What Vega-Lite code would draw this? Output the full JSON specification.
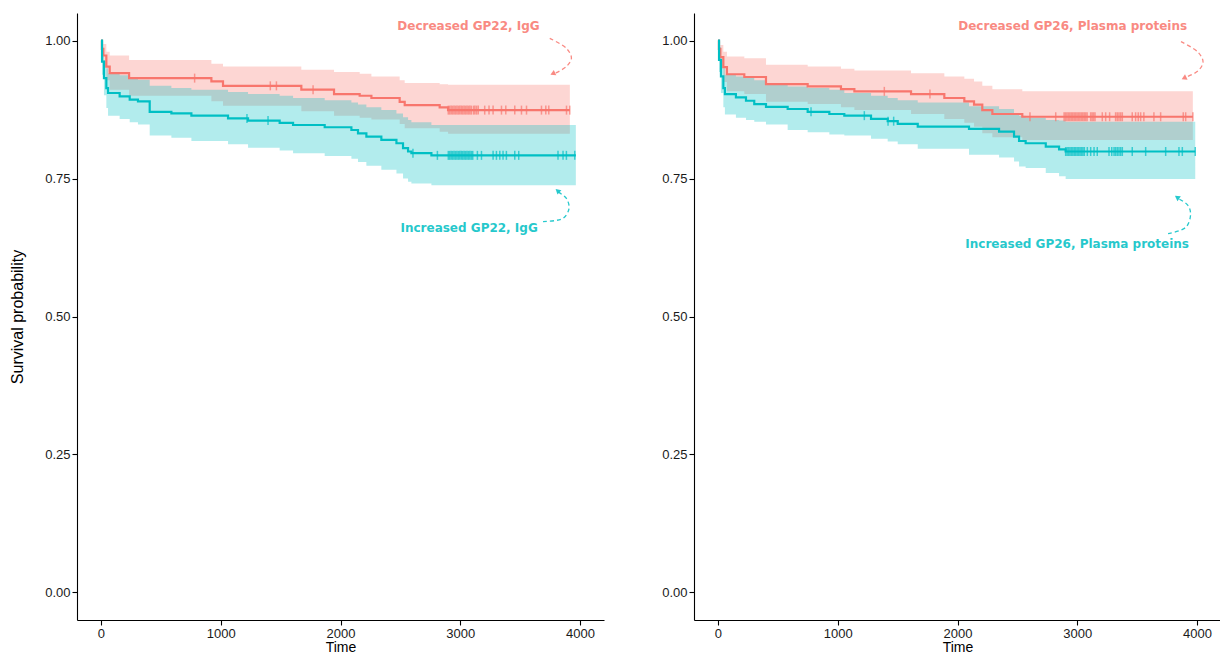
{
"$schema": "https://vega.github.io/schema/vega-lite/v6.json",
"background": "white",
"padding": {"left": 9, "top": 13, "right": 0, "bottom": 0},
"spacing": 57,
"config": {
  "view": {"stroke": null},
  "axis": {"grid": false, "domainColor": "black", "domainWidth": 1.1, "tickColor": "black", "tickSize": 5, "tickWidth": 1.1, "labelFont": "Liberation Sans", "labelFontSize": 13, "labelColor": "#1a1a1a", "labelPadding": 2, "titleFont": "Liberation Sans", "titleFontSize": 16, "titleFontWeight": "normal", "titleColor": "black"}
},
"datasets": {
  "km": [
    {"panel":"GP22","group":"Decreased","time":0,"surv":1,"lower":1,"upper":1},
    {"panel":"GP22","group":"Decreased","time":8,"surv":0.985,"lower":0.968,"upper":1.0},
    {"panel":"GP22","group":"Decreased","time":20,"surv":0.973,"lower":0.952,"upper":0.994},
    {"panel":"GP22","group":"Decreased","time":45,"surv":0.953,"lower":0.928,"upper":0.98},
    {"panel":"GP22","group":"Decreased","time":73,"surv":0.941,"lower":0.911,"upper":0.973},
    {"panel":"GP22","group":"Decreased","time":235,"surv":0.932,"lower":0.9,"upper":0.965},
    {"panel":"GP22","group":"Decreased","time":922,"surv":0.926,"lower":0.89,"upper":0.958},
    {"panel":"GP22","group":"Decreased","time":1019,"surv":0.918,"lower":0.882,"upper":0.953},
    {"panel":"GP22","group":"Decreased","time":1673,"surv":0.911,"lower":0.872,"upper":0.947},
    {"panel":"GP22","group":"Decreased","time":1946,"surv":0.903,"lower":0.864,"upper":0.943},
    {"panel":"GP22","group":"Decreased","time":2160,"surv":0.9,"lower":0.86,"upper":0.94},
    {"panel":"GP22","group":"Decreased","time":2258,"surv":0.896,"lower":0.857,"upper":0.935},
    {"panel":"GP22","group":"Decreased","time":2494,"surv":0.889,"lower":0.849,"upper":0.928},
    {"panel":"GP22","group":"Decreased","time":2536,"surv":0.883,"lower":0.841,"upper":0.923},
    {"panel":"GP22","group":"Decreased","time":2828,"surv":0.879,"lower":0.835,"upper":0.921},
    {"panel":"GP22","group":"Decreased","time":2898,"surv":0.874,"lower":0.831,"upper":0.92},
    {"panel":"GP22","group":"Decreased","time":3915,"surv":0.874,"lower":0.831,"upper":0.92},
    {"panel":"GP22","group":"Increased","time":0,"surv":1,"lower":1,"upper":1},
    {"panel":"GP22","group":"Increased","time":9,"surv":0.962,"lower":0.938,"upper":0.987},
    {"panel":"GP22","group":"Increased","time":25,"surv":0.932,"lower":0.901,"upper":0.964},
    {"panel":"GP22","group":"Increased","time":45,"surv":0.914,"lower":0.878,"upper":0.95},
    {"panel":"GP22","group":"Increased","time":59,"surv":0.905,"lower":0.864,"upper":0.941},
    {"panel":"GP22","group":"Increased","time":156,"surv":0.899,"lower":0.858,"upper":0.937},
    {"panel":"GP22","group":"Increased","time":240,"surv":0.893,"lower":0.852,"upper":0.931},
    {"panel":"GP22","group":"Increased","time":309,"surv":0.89,"lower":0.848,"upper":0.929},
    {"panel":"GP22","group":"Increased","time":407,"surv":0.871,"lower":0.828,"upper":0.918},
    {"panel":"GP22","group":"Increased","time":588,"surv":0.868,"lower":0.824,"upper":0.914},
    {"panel":"GP22","group":"Increased","time":755,"surv":0.864,"lower":0.818,"upper":0.911},
    {"panel":"GP22","group":"Increased","time":1061,"surv":0.859,"lower":0.812,"upper":0.907},
    {"panel":"GP22","group":"Increased","time":1228,"surv":0.855,"lower":0.806,"upper":0.903},
    {"panel":"GP22","group":"Increased","time":1492,"surv":0.851,"lower":0.801,"upper":0.9},
    {"panel":"GP22","group":"Increased","time":1604,"surv":0.847,"lower":0.796,"upper":0.896},
    {"panel":"GP22","group":"Increased","time":1868,"surv":0.843,"lower":0.791,"upper":0.892},
    {"panel":"GP22","group":"Increased","time":2091,"surv":0.838,"lower":0.786,"upper":0.888},
    {"panel":"GP22","group":"Increased","time":2146,"surv":0.832,"lower":0.78,"upper":0.884},
    {"panel":"GP22","group":"Increased","time":2216,"surv":0.826,"lower":0.773,"upper":0.879},
    {"panel":"GP22","group":"Increased","time":2341,"surv":0.82,"lower":0.766,"upper":0.874},
    {"panel":"GP22","group":"Increased","time":2467,"surv":0.814,"lower":0.759,"upper":0.868},
    {"panel":"GP22","group":"Increased","time":2522,"surv":0.805,"lower":0.75,"upper":0.861},
    {"panel":"GP22","group":"Increased","time":2564,"surv":0.799,"lower":0.744,"upper":0.856},
    {"panel":"GP22","group":"Increased","time":2592,"surv":0.796,"lower":0.741,"upper":0.852},
    {"panel":"GP22","group":"Increased","time":2759,"surv":0.792,"lower":0.738,"upper":0.847},
    {"panel":"GP22","group":"Increased","time":3965,"surv":0.792,"lower":0.738,"upper":0.847},
    {"panel":"GP26","group":"Decreased","time":0,"surv":1,"lower":1,"upper":1},
    {"panel":"GP26","group":"Decreased","time":8,"surv":0.985,"lower":0.97,"upper":1.0},
    {"panel":"GP26","group":"Decreased","time":20,"surv":0.97,"lower":0.95,"upper":0.992},
    {"panel":"GP26","group":"Decreased","time":45,"surv":0.952,"lower":0.925,"upper":0.98},
    {"panel":"GP26","group":"Decreased","time":75,"surv":0.939,"lower":0.908,"upper":0.971},
    {"panel":"GP26","group":"Decreased","time":220,"surv":0.934,"lower":0.903,"upper":0.968},
    {"panel":"GP26","group":"Decreased","time":401,"surv":0.921,"lower":0.889,"upper":0.956},
    {"panel":"GP26","group":"Decreased","time":749,"surv":0.917,"lower":0.885,"upper":0.953},
    {"panel":"GP26","group":"Decreased","time":1027,"surv":0.912,"lower":0.879,"upper":0.949},
    {"panel":"GP26","group":"Decreased","time":1139,"surv":0.908,"lower":0.874,"upper":0.946},
    {"panel":"GP26","group":"Decreased","time":1612,"surv":0.903,"lower":0.867,"upper":0.941},
    {"panel":"GP26","group":"Decreased","time":1890,"surv":0.896,"lower":0.858,"upper":0.935},
    {"panel":"GP26","group":"Decreased","time":2057,"surv":0.89,"lower":0.851,"upper":0.931},
    {"panel":"GP26","group":"Decreased","time":2138,"surv":0.884,"lower":0.844,"upper":0.926},
    {"panel":"GP26","group":"Decreased","time":2207,"surv":0.874,"lower":0.832,"upper":0.918},
    {"panel":"GP26","group":"Decreased","time":2291,"surv":0.867,"lower":0.825,"upper":0.912},
    {"panel":"GP26","group":"Decreased","time":2541,"surv":0.862,"lower":0.82,"upper":0.908},
    {"panel":"GP26","group":"Decreased","time":3965,"surv":0.862,"lower":0.82,"upper":0.908},
    {"panel":"GP26","group":"Increased","time":0,"surv":1,"lower":1,"upper":1},
    {"panel":"GP26","group":"Increased","time":9,"surv":0.965,"lower":0.943,"upper":0.988},
    {"panel":"GP26","group":"Increased","time":25,"surv":0.935,"lower":0.905,"upper":0.966},
    {"panel":"GP26","group":"Increased","time":45,"surv":0.914,"lower":0.879,"upper":0.95},
    {"panel":"GP26","group":"Increased","time":58,"surv":0.903,"lower":0.866,"upper":0.938},
    {"panel":"GP26","group":"Increased","time":150,"surv":0.897,"lower":0.86,"upper":0.935},
    {"panel":"GP26","group":"Increased","time":234,"surv":0.891,"lower":0.856,"upper":0.932},
    {"panel":"GP26","group":"Increased","time":303,"surv":0.885,"lower":0.853,"upper":0.928},
    {"panel":"GP26","group":"Increased","time":401,"surv":0.88,"lower":0.848,"upper":0.92},
    {"panel":"GP26","group":"Increased","time":582,"surv":0.876,"lower":0.838,"upper":0.917},
    {"panel":"GP26","group":"Increased","time":749,"surv":0.871,"lower":0.834,"upper":0.914},
    {"panel":"GP26","group":"Increased","time":930,"surv":0.867,"lower":0.83,"upper":0.911},
    {"panel":"GP26","group":"Increased","time":1055,"surv":0.864,"lower":0.828,"upper":0.905},
    {"panel":"GP26","group":"Increased","time":1278,"surv":0.858,"lower":0.822,"upper":0.9},
    {"panel":"GP26","group":"Increased","time":1417,"surv":0.854,"lower":0.817,"upper":0.896},
    {"panel":"GP26","group":"Increased","time":1501,"surv":0.849,"lower":0.812,"upper":0.892},
    {"panel":"GP26","group":"Increased","time":1668,"surv":0.844,"lower":0.804,"upper":0.888},
    {"panel":"GP26","group":"Increased","time":2096,"surv":0.84,"lower":0.793,"upper":0.881},
    {"panel":"GP26","group":"Increased","time":2347,"surv":0.835,"lower":0.788,"upper":0.876},
    {"panel":"GP26","group":"Increased","time":2472,"surv":0.826,"lower":0.781,"upper":0.869},
    {"panel":"GP26","group":"Increased","time":2514,"surv":0.818,"lower":0.772,"upper":0.864},
    {"panel":"GP26","group":"Increased","time":2569,"surv":0.814,"lower":0.769,"upper":0.86},
    {"panel":"GP26","group":"Increased","time":2737,"surv":0.808,"lower":0.76,"upper":0.856},
    {"panel":"GP26","group":"Increased","time":2848,"surv":0.803,"lower":0.754,"upper":0.855},
    {"panel":"GP26","group":"Increased","time":2903,"surv":0.799,"lower":0.749,"upper":0.853},
    {"panel":"GP26","group":"Increased","time":3985,"surv":0.799,"lower":0.749,"upper":0.853}
  ],
  "censor": [
    {"panel":"GP22","group":"Decreased","time":782,"surv":0.932},
    {"panel":"GP22","group":"Decreased","time":1414,"surv":0.918},
    {"panel":"GP22","group":"Decreased","time":1465,"surv":0.918},
    {"panel":"GP22","group":"Decreased","time":1771,"surv":0.911},
    {"panel":"GP22","group":"Decreased","time":2900,"surv":0.874},
    {"panel":"GP22","group":"Decreased","time":2912,"surv":0.874},
    {"panel":"GP22","group":"Decreased","time":2924,"surv":0.874},
    {"panel":"GP22","group":"Decreased","time":2936,"surv":0.874},
    {"panel":"GP22","group":"Decreased","time":2948,"surv":0.874},
    {"panel":"GP22","group":"Decreased","time":2960,"surv":0.874},
    {"panel":"GP22","group":"Decreased","time":2972,"surv":0.874},
    {"panel":"GP22","group":"Decreased","time":2984,"surv":0.874},
    {"panel":"GP22","group":"Decreased","time":2996,"surv":0.874},
    {"panel":"GP22","group":"Decreased","time":3008,"surv":0.874},
    {"panel":"GP22","group":"Decreased","time":3020,"surv":0.874},
    {"panel":"GP22","group":"Decreased","time":3032,"surv":0.874},
    {"panel":"GP22","group":"Decreased","time":3044,"surv":0.874},
    {"panel":"GP22","group":"Decreased","time":3056,"surv":0.874},
    {"panel":"GP22","group":"Decreased","time":3068,"surv":0.874},
    {"panel":"GP22","group":"Decreased","time":3080,"surv":0.874},
    {"panel":"GP22","group":"Decreased","time":3092,"surv":0.874},
    {"panel":"GP22","group":"Decreased","time":3110,"surv":0.874},
    {"panel":"GP22","group":"Decreased","time":3122,"surv":0.874},
    {"panel":"GP22","group":"Decreased","time":3136,"surv":0.874},
    {"panel":"GP22","group":"Decreased","time":3150,"surv":0.874},
    {"panel":"GP22","group":"Decreased","time":3204,"surv":0.874},
    {"panel":"GP22","group":"Decreased","time":3240,"surv":0.874},
    {"panel":"GP22","group":"Decreased","time":3274,"surv":0.874},
    {"panel":"GP22","group":"Decreased","time":3344,"surv":0.874},
    {"panel":"GP22","group":"Decreased","time":3380,"surv":0.874},
    {"panel":"GP22","group":"Decreased","time":3455,"surv":0.874},
    {"panel":"GP22","group":"Decreased","time":3511,"surv":0.874},
    {"panel":"GP22","group":"Decreased","time":3553,"surv":0.874},
    {"panel":"GP22","group":"Decreased","time":3678,"surv":0.874},
    {"panel":"GP22","group":"Decreased","time":3714,"surv":0.874},
    {"panel":"GP22","group":"Decreased","time":3739,"surv":0.874},
    {"panel":"GP22","group":"Decreased","time":3887,"surv":0.874},
    {"panel":"GP22","group":"Decreased","time":3914,"surv":0.874},
    {"panel":"GP22","group":"Increased","time":1219,"surv":0.859},
    {"panel":"GP22","group":"Increased","time":1395,"surv":0.855},
    {"panel":"GP22","group":"Increased","time":2605,"surv":0.796},
    {"panel":"GP22","group":"Increased","time":2809,"surv":0.792},
    {"panel":"GP22","group":"Increased","time":2900,"surv":0.792},
    {"panel":"GP22","group":"Increased","time":2912,"surv":0.792},
    {"panel":"GP22","group":"Increased","time":2924,"surv":0.792},
    {"panel":"GP22","group":"Increased","time":2936,"surv":0.792},
    {"panel":"GP22","group":"Increased","time":2948,"surv":0.792},
    {"panel":"GP22","group":"Increased","time":2960,"surv":0.792},
    {"panel":"GP22","group":"Increased","time":2972,"surv":0.792},
    {"panel":"GP22","group":"Increased","time":2984,"surv":0.792},
    {"panel":"GP22","group":"Increased","time":2996,"surv":0.792},
    {"panel":"GP22","group":"Increased","time":3008,"surv":0.792},
    {"panel":"GP22","group":"Increased","time":3020,"surv":0.792},
    {"panel":"GP22","group":"Increased","time":3032,"surv":0.792},
    {"panel":"GP22","group":"Increased","time":3044,"surv":0.792},
    {"panel":"GP22","group":"Increased","time":3056,"surv":0.792},
    {"panel":"GP22","group":"Increased","time":3068,"surv":0.792},
    {"panel":"GP22","group":"Increased","time":3080,"surv":0.792},
    {"panel":"GP22","group":"Increased","time":3092,"surv":0.792},
    {"panel":"GP22","group":"Increased","time":3104,"surv":0.792},
    {"panel":"GP22","group":"Increased","time":3143,"surv":0.792},
    {"panel":"GP22","group":"Increased","time":3177,"surv":0.792},
    {"panel":"GP22","group":"Increased","time":3274,"surv":0.792},
    {"panel":"GP22","group":"Increased","time":3302,"surv":0.792},
    {"panel":"GP22","group":"Increased","time":3330,"surv":0.792},
    {"panel":"GP22","group":"Increased","time":3357,"surv":0.792},
    {"panel":"GP22","group":"Increased","time":3385,"surv":0.792},
    {"panel":"GP22","group":"Increased","time":3455,"surv":0.792},
    {"panel":"GP22","group":"Increased","time":3488,"surv":0.792},
    {"panel":"GP22","group":"Increased","time":3816,"surv":0.792},
    {"panel":"GP22","group":"Increased","time":3858,"surv":0.792},
    {"panel":"GP22","group":"Increased","time":3886,"surv":0.792},
    {"panel":"GP22","group":"Increased","time":3956,"surv":0.792},
    {"panel":"GP26","group":"Decreased","time":1389,"surv":0.908},
    {"panel":"GP26","group":"Decreased","time":1770,"surv":0.903},
    {"panel":"GP26","group":"Decreased","time":2605,"surv":0.862},
    {"panel":"GP26","group":"Decreased","time":2820,"surv":0.862},
    {"panel":"GP26","group":"Decreased","time":2890,"surv":0.862},
    {"panel":"GP26","group":"Decreased","time":2902,"surv":0.862},
    {"panel":"GP26","group":"Decreased","time":2914,"surv":0.862},
    {"panel":"GP26","group":"Decreased","time":2926,"surv":0.862},
    {"panel":"GP26","group":"Decreased","time":2938,"surv":0.862},
    {"panel":"GP26","group":"Decreased","time":2950,"surv":0.862},
    {"panel":"GP26","group":"Decreased","time":2962,"surv":0.862},
    {"panel":"GP26","group":"Decreased","time":2974,"surv":0.862},
    {"panel":"GP26","group":"Decreased","time":2986,"surv":0.862},
    {"panel":"GP26","group":"Decreased","time":2998,"surv":0.862},
    {"panel":"GP26","group":"Decreased","time":3010,"surv":0.862},
    {"panel":"GP26","group":"Decreased","time":3022,"surv":0.862},
    {"panel":"GP26","group":"Decreased","time":3034,"surv":0.862},
    {"panel":"GP26","group":"Decreased","time":3046,"surv":0.862},
    {"panel":"GP26","group":"Decreased","time":3058,"surv":0.862},
    {"panel":"GP26","group":"Decreased","time":3070,"surv":0.862},
    {"panel":"GP26","group":"Decreased","time":3082,"surv":0.862},
    {"panel":"GP26","group":"Decreased","time":3112,"surv":0.862},
    {"panel":"GP26","group":"Decreased","time":3124,"surv":0.862},
    {"panel":"GP26","group":"Decreased","time":3136,"surv":0.862},
    {"panel":"GP26","group":"Decreased","time":3148,"surv":0.862},
    {"panel":"GP26","group":"Decreased","time":3209,"surv":0.862},
    {"panel":"GP26","group":"Decreased","time":3237,"surv":0.862},
    {"panel":"GP26","group":"Decreased","time":3270,"surv":0.862},
    {"panel":"GP26","group":"Decreased","time":3320,"surv":0.862},
    {"panel":"GP26","group":"Decreased","time":3334,"surv":0.862},
    {"panel":"GP26","group":"Decreased","time":3348,"surv":0.862},
    {"panel":"GP26","group":"Decreased","time":3362,"surv":0.862},
    {"panel":"GP26","group":"Decreased","time":3376,"surv":0.862},
    {"panel":"GP26","group":"Decreased","time":3459,"surv":0.862},
    {"panel":"GP26","group":"Decreased","time":3487,"surv":0.862},
    {"panel":"GP26","group":"Decreased","time":3509,"surv":0.862},
    {"panel":"GP26","group":"Decreased","time":3529,"surv":0.862},
    {"panel":"GP26","group":"Decreased","time":3556,"surv":0.862},
    {"panel":"GP26","group":"Decreased","time":3640,"surv":0.862},
    {"panel":"GP26","group":"Decreased","time":3696,"surv":0.862},
    {"panel":"GP26","group":"Decreased","time":3885,"surv":0.862},
    {"panel":"GP26","group":"Decreased","time":3905,"surv":0.862},
    {"panel":"GP26","group":"Decreased","time":3965,"surv":0.862},
    {"panel":"GP26","group":"Increased","time":777,"surv":0.871},
    {"panel":"GP26","group":"Increased","time":1222,"surv":0.864},
    {"panel":"GP26","group":"Increased","time":1420,"surv":0.854},
    {"panel":"GP26","group":"Increased","time":1467,"surv":0.854},
    {"panel":"GP26","group":"Increased","time":2903,"surv":0.799},
    {"panel":"GP26","group":"Increased","time":2915,"surv":0.799},
    {"panel":"GP26","group":"Increased","time":2927,"surv":0.799},
    {"panel":"GP26","group":"Increased","time":2939,"surv":0.799},
    {"panel":"GP26","group":"Increased","time":2951,"surv":0.799},
    {"panel":"GP26","group":"Increased","time":2963,"surv":0.799},
    {"panel":"GP26","group":"Increased","time":2975,"surv":0.799},
    {"panel":"GP26","group":"Increased","time":2987,"surv":0.799},
    {"panel":"GP26","group":"Increased","time":2999,"surv":0.799},
    {"panel":"GP26","group":"Increased","time":3011,"surv":0.799},
    {"panel":"GP26","group":"Increased","time":3023,"surv":0.799},
    {"panel":"GP26","group":"Increased","time":3035,"surv":0.799},
    {"panel":"GP26","group":"Increased","time":3047,"surv":0.799},
    {"panel":"GP26","group":"Increased","time":3059,"surv":0.799},
    {"panel":"GP26","group":"Increased","time":3084,"surv":0.799},
    {"panel":"GP26","group":"Increased","time":3112,"surv":0.799},
    {"panel":"GP26","group":"Increased","time":3140,"surv":0.799},
    {"panel":"GP26","group":"Increased","time":3167,"surv":0.799},
    {"panel":"GP26","group":"Increased","time":3265,"surv":0.799},
    {"panel":"GP26","group":"Increased","time":3288,"surv":0.799},
    {"panel":"GP26","group":"Increased","time":3307,"surv":0.799},
    {"panel":"GP26","group":"Increased","time":3320,"surv":0.799},
    {"panel":"GP26","group":"Increased","time":3334,"surv":0.799},
    {"panel":"GP26","group":"Increased","time":3348,"surv":0.799},
    {"panel":"GP26","group":"Increased","time":3362,"surv":0.799},
    {"panel":"GP26","group":"Increased","time":3376,"surv":0.799},
    {"panel":"GP26","group":"Increased","time":3459,"surv":0.799},
    {"panel":"GP26","group":"Increased","time":3571,"surv":0.799},
    {"panel":"GP26","group":"Increased","time":3738,"surv":0.799},
    {"panel":"GP26","group":"Increased","time":3849,"surv":0.799},
    {"panel":"GP26","group":"Increased","time":3877,"surv":0.799},
    {"panel":"GP26","group":"Increased","time":3985,"surv":0.799}
  ],
  "notes": [
    {"panel":"GP22","group":"Decreased","time":3663,"surv":1.027,"label":"Decreased GP22, IgG"},
    {"panel":"GP22","group":"Increased","time":3647,"surv":0.661,"label":"Increased GP22, IgG"},
    {"panel":"GP26","group":"Decreased","time":3917,"surv":1.027,"label":"Decreased GP26, Plasma proteins"},
    {"panel":"GP26","group":"Increased","time":3933,"surv":0.632,"label":"Increased GP26, Plasma proteins"}
  ],
  "arrows": [
    {"panel":"GP22","group":"Decreased","step":1,"time":3747,"surv":1.004},
    {"panel":"GP22","group":"Decreased","step":2,"time":3886,"surv":0.986},
    {"panel":"GP22","group":"Decreased","step":3,"time":3928,"surv":0.968},
    {"panel":"GP22","group":"Decreased","step":4,"time":3886,"surv":0.953},
    {"panel":"GP22","group":"Decreased","step":5,"time":3785,"surv":0.940},
    {"panel":"GP22","group":"Increased","step":1,"time":3691,"surv":0.672},
    {"panel":"GP22","group":"Increased","step":2,"time":3858,"surv":0.678},
    {"panel":"GP22","group":"Increased","step":3,"time":3908,"surv":0.696},
    {"panel":"GP22","group":"Increased","step":4,"time":3886,"surv":0.714},
    {"panel":"GP22","group":"Increased","step":5,"time":3822,"surv":0.725},
    {"panel":"GP26","group":"Decreased","step":1,"time":3866,"surv":0.998},
    {"panel":"GP26","group":"Decreased","step":2,"time":4008,"surv":0.979},
    {"panel":"GP26","group":"Decreased","step":3,"time":4050,"surv":0.961},
    {"panel":"GP26","group":"Decreased","step":4,"time":4008,"surv":0.945},
    {"panel":"GP26","group":"Decreased","step":5,"time":3900,"surv":0.933},
    {"panel":"GP26","group":"Increased","step":1,"time":3758,"surv":0.650},
    {"panel":"GP26","group":"Increased","step":2,"time":3908,"surv":0.662},
    {"panel":"GP26","group":"Increased","step":3,"time":3946,"surv":0.686},
    {"panel":"GP26","group":"Increased","step":4,"time":3922,"surv":0.702},
    {"panel":"GP26","group":"Increased","step":5,"time":3840,"surv":0.714}
  ],
  "heads": [
    {"panel":"GP22","group":"Decreased","time":3772,"surv":0.940},
    {"panel":"GP22","group":"Increased","time":3812,"surv":0.728},
    {"panel":"GP26","group":"Decreased","time":3891,"surv":0.932},
    {"panel":"GP26","group":"Increased","time":3833,"surv":0.716}
  ]
},
"hconcat": [
  {
    "width": 527, "height": 607,
    "encoding": {
      "x": {"field":"time","type":"quantitative","scale":{"domain":[-200,4200],"nice":false,"zero":false},"axis":{"title":"Time","values":[0,1000,2000,3000,4000],"format":"d","titlePadding":0,"titleFontSize":14}},
      "y": {"field":"surv","type":"quantitative","scale":{"domain":[-0.05,1.05],"nice":false,"zero":false},"axis":{"title":"Survival probability","values":[0,0.25,0.5,0.75,1],"format":".2f","titlePadding":19}},
      "color": {"field":"group","type":"nominal","scale":{"domain":["Decreased","Increased"],"range":["#F8766D","#00BFC4"]},"legend":null}
    },
    "layer": [
      {"data":{"name":"km"},"transform":[{"filter":"datum.panel === 'GP22'"}],"mark":{"type":"area","interpolate":"step-after","opacity":0.3},"encoding":{"y":{"field":"lower","type":"quantitative"},"y2":{"field":"upper"}}},
      {"data":{"name":"km"},"transform":[{"filter":"datum.panel === 'GP22'"}],"mark":{"type":"line","interpolate":"step-after","strokeWidth":2.2}},
      {"data":{"name":"censor"},"transform":[{"filter":"datum.panel === 'GP22'"}],"mark":{"type":"tick","orient":"vertical","size":9,"thickness":1.5}},
      {"data":{"name":"arrows"},"transform":[{"filter":"datum.panel === 'GP22'"}],"mark":{"type":"line","interpolate":"catmull-rom","strokeDash":[4,3],"strokeWidth":1.3,"opacity":0.85},"encoding":{"order":{"field":"step","type":"quantitative"}}},
      {"data":{"name":"heads"},"transform":[{"filter":"datum.panel === 'GP22' && datum.group === 'Decreased'"}],"mark":{"type":"point","shape":"triangle-up","filled":true,"size":35,"angle":244,"opacity":0.85}},
      {"data":{"name":"heads"},"transform":[{"filter":"datum.panel === 'GP22' && datum.group === 'Increased'"}],"mark":{"type":"point","shape":"triangle-up","filled":true,"size":35,"angle":312,"opacity":0.85}},
      {"data":{"name":"notes"},"transform":[{"filter":"datum.panel === 'GP22'"}],"mark":{"type":"text","align":"right","baseline":"middle","font":"DejaVu Sans","fontWeight":"bold","fontSize":12,"opacity":0.85},"encoding":{"text":{"field":"label"}}}
    ]
  },
  {
    "width": 527, "height": 607,
    "encoding": {
      "x": {"field":"time","type":"quantitative","scale":{"domain":[-200,4200],"nice":false,"zero":false},"axis":{"title":"Time","values":[0,1000,2000,3000,4000],"format":"d","titlePadding":0,"titleFontSize":14}},
      "y": {"field":"surv","type":"quantitative","scale":{"domain":[-0.05,1.05],"nice":false,"zero":false},"axis":{"title":null,"values":[0,0.25,0.5,0.75,1],"format":".2f"}},
      "color": {"field":"group","type":"nominal","scale":{"domain":["Decreased","Increased"],"range":["#F8766D","#00BFC4"]},"legend":null}
    },
    "layer": [
      {"data":{"name":"km"},"transform":[{"filter":"datum.panel === 'GP26'"}],"mark":{"type":"area","interpolate":"step-after","opacity":0.3},"encoding":{"y":{"field":"lower","type":"quantitative"},"y2":{"field":"upper"}}},
      {"data":{"name":"km"},"transform":[{"filter":"datum.panel === 'GP26'"}],"mark":{"type":"line","interpolate":"step-after","strokeWidth":2.2}},
      {"data":{"name":"censor"},"transform":[{"filter":"datum.panel === 'GP26'"}],"mark":{"type":"tick","orient":"vertical","size":9,"thickness":1.5}},
      {"data":{"name":"arrows"},"transform":[{"filter":"datum.panel === 'GP26'"}],"mark":{"type":"line","interpolate":"catmull-rom","strokeDash":[4,3],"strokeWidth":1.3,"opacity":0.85},"encoding":{"order":{"field":"step","type":"quantitative"}}},
      {"data":{"name":"heads"},"transform":[{"filter":"datum.panel === 'GP26' && datum.group === 'Decreased'"}],"mark":{"type":"point","shape":"triangle-up","filled":true,"size":35,"angle":244,"opacity":0.85}},
      {"data":{"name":"heads"},"transform":[{"filter":"datum.panel === 'GP26' && datum.group === 'Increased'"}],"mark":{"type":"point","shape":"triangle-up","filled":true,"size":35,"angle":305,"opacity":0.85}},
      {"data":{"name":"notes"},"transform":[{"filter":"datum.panel === 'GP26'"}],"mark":{"type":"text","align":"right","baseline":"middle","font":"DejaVu Sans","fontWeight":"bold","fontSize":12,"opacity":0.85},"encoding":{"text":{"field":"label"}}}
    ]
  }
]
}
